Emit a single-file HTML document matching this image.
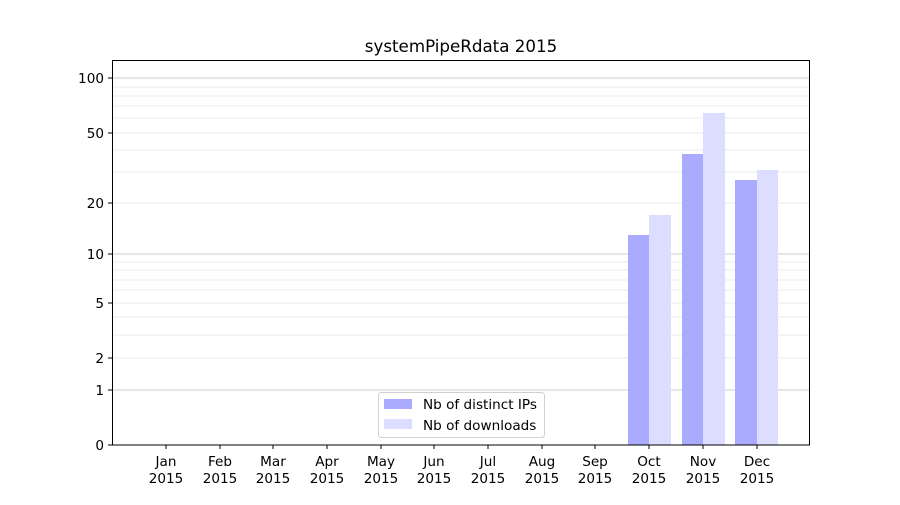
<!DOCTYPE html>
<html><head><meta charset="utf-8"><style>
html,body{margin:0;padding:0;background:#fff;}
text{font-family:"DejaVu Sans","Liberation Sans",sans-serif;font-size:13.6px;fill:#000;}
</style></head><body>
<svg width="900" height="500" xmlns="http://www.w3.org/2000/svg">
<rect width="900" height="500" fill="#fff"/>
<text x="461" y="52" text-anchor="middle" style="font-size:16.7px">systemPipeRdata 2015</text>
<g stroke="#ebebeb" stroke-width="1">
<line x1="112" x2="810" y1="358" y2="358"/>
<line x1="112" x2="810" y1="335" y2="335"/>
<line x1="112" x2="810" y1="317" y2="317"/>
<line x1="112" x2="810" y1="303" y2="303"/>
<line x1="112" x2="810" y1="290" y2="290"/>
<line x1="112" x2="810" y1="280" y2="280"/>
<line x1="112" x2="810" y1="270" y2="270"/>
<line x1="112" x2="810" y1="262" y2="262"/>
<line x1="112" x2="810" y1="203" y2="203"/>
<line x1="112" x2="810" y1="172" y2="172"/>
<line x1="112" x2="810" y1="150" y2="150"/>
<line x1="112" x2="810" y1="133" y2="133"/>
<line x1="112" x2="810" y1="118" y2="118"/>
<line x1="112" x2="810" y1="106" y2="106"/>
<line x1="112" x2="810" y1="96" y2="96"/>
<line x1="112" x2="810" y1="87" y2="87"/>
</g>
<g stroke="#cccccc" stroke-width="1">
<line x1="112" x2="810" y1="390" y2="390"/>
<line x1="112" x2="810" y1="254" y2="254"/>
<line x1="112" x2="810" y1="78" y2="78"/>
</g>
<g fill="#aaaaff">
<rect x="628" y="235" width="21" height="210"/>
<rect x="682" y="154" width="21" height="291"/>
<rect x="735" y="180" width="22" height="265"/>
</g>
<g fill="#ddddff">
<rect x="649" y="215" width="22" height="230"/>
<rect x="703" y="113" width="22" height="332"/>
<rect x="757" y="170" width="21" height="275"/>
</g>
<rect x="112.5" y="60.5" width="697" height="384.5" fill="none" stroke="#000" stroke-width="1"/>
<g stroke="#000"><line x1="108" x2="112" y1="445" y2="445"/><line x1="108" x2="112" y1="390" y2="390"/><line x1="108" x2="112" y1="358" y2="358"/><line x1="108" x2="112" y1="303" y2="303"/><line x1="108" x2="112" y1="254" y2="254"/><line x1="108" x2="112" y1="203" y2="203"/><line x1="108" x2="112" y1="133" y2="133"/><line x1="108" x2="112" y1="78" y2="78"/></g>
<g text-anchor="end">
<text x="104" y="450">0</text><text x="104" y="395">1</text><text x="104" y="363">2</text><text x="104" y="308">5</text><text x="104" y="259">10</text><text x="104" y="208">20</text><text x="104" y="138">50</text><text x="104" y="83">100</text>
</g>
<g stroke="#000">
<line x1="166" x2="166" y1="445" y2="449"/><line x1="220" x2="220" y1="445" y2="449"/><line x1="273" x2="273" y1="445" y2="449"/><line x1="327" x2="327" y1="445" y2="449"/><line x1="381" x2="381" y1="445" y2="449"/><line x1="434" x2="434" y1="445" y2="449"/><line x1="488" x2="488" y1="445" y2="449"/><line x1="542" x2="542" y1="445" y2="449"/><line x1="595" x2="595" y1="445" y2="449"/><line x1="649" x2="649" y1="445" y2="449"/><line x1="703" x2="703" y1="445" y2="449"/><line x1="757" x2="757" y1="445" y2="449"/>
</g>
<g text-anchor="middle">
<text x="166" y="466">Jan</text><text x="220" y="466">Feb</text><text x="273" y="466">Mar</text><text x="327" y="466">Apr</text><text x="381" y="466">May</text><text x="434" y="466">Jun</text><text x="488" y="466">Jul</text><text x="542" y="466">Aug</text><text x="595" y="466">Sep</text><text x="649" y="466">Oct</text><text x="703" y="466">Nov</text><text x="757" y="466">Dec</text>
<text x="166" y="483">2015</text><text x="220" y="483">2015</text><text x="273" y="483">2015</text><text x="327" y="483">2015</text><text x="381" y="483">2015</text><text x="434" y="483">2015</text><text x="488" y="483">2015</text><text x="542" y="483">2015</text><text x="595" y="483">2015</text><text x="649" y="483">2015</text><text x="703" y="483">2015</text><text x="757" y="483">2015</text>
</g>
<rect x="378.5" y="392.5" width="166" height="45" rx="3" fill="#fff" fill-opacity="0.8" stroke="#d0d0d0"/>
<rect x="384" y="399" width="28" height="10" fill="#aaaaff"/>
<rect x="384" y="419" width="28" height="10" fill="#ddddff"/>
<text x="423" y="409">Nb of distinct IPs</text>
<text x="423" y="430">Nb of downloads</text>
</svg>
</body></html>
